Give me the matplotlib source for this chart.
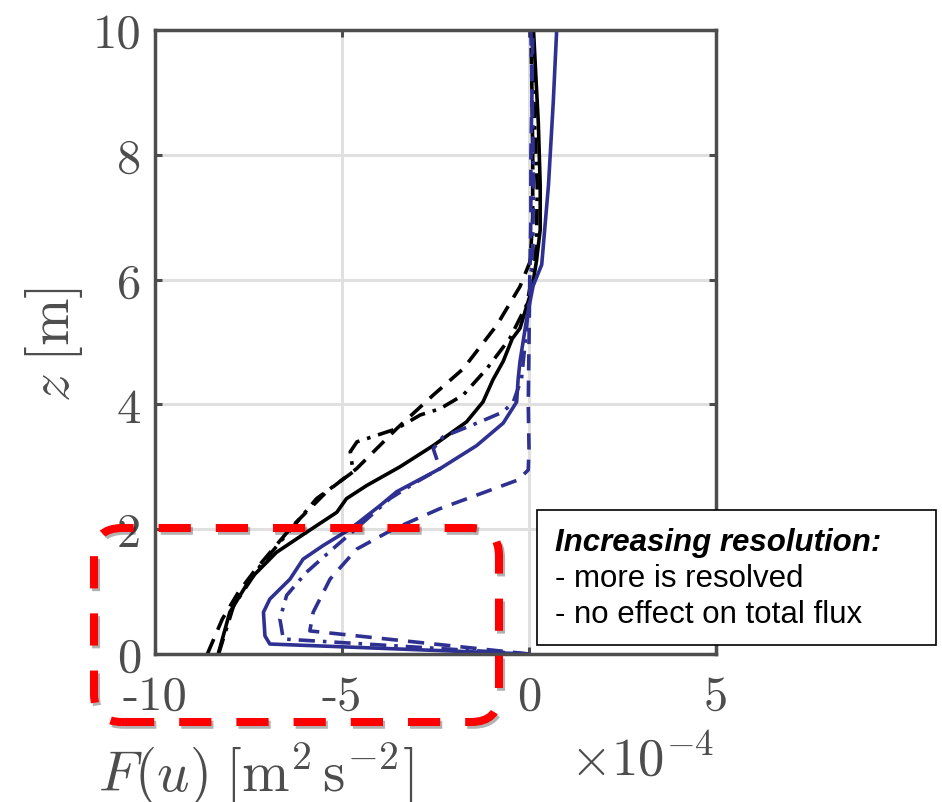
import numpy as np
import matplotlib
matplotlib.use("Agg")
import matplotlib.pyplot as plt
import matplotlib.patches as mpatches
import matplotlib.patheffects as pe

# ── Data (F in units of 1e-4 m^2 s^-2, z in m) ─────────────────
# black: solid / dashed / dash-dot
k_solid_z = [0, 0.67, 1.2, 1.63, 1.95, 2.27, 2.49, 2.70, 3.0, 3.34, 3.72, 4.04,
             4.4, 4.69, 5.05, 5.22, 5.5, 5.75, 6.0, 6.3, 6.8, 7.5, 8.5, 9.3, 10]
k_solid_f = [-8.31, -8.0, -7.46, -6.75, -5.95, -5.14, -4.88, -4.34, -3.45, -2.56,
             -1.67, -1.23, -0.96, -0.69, -0.45, -0.24, -0.1, 0.03, 0.12, 0.2,
             0.3, 0.3, 0.25, 0.18, 0.12]

k_dash_z = [0, 0.56, 0.99, 1.34, 2.06, 2.6, 2.97, 3.61, 4.15, 4.57, 5.27, 5.89,
            6.29, 7.0, 8.0, 9.0, 10]
k_dash_f = [-8.6, -8.2, -7.77, -7.33, -6.31, -5.41, -4.61, -3.54, -2.56, -1.76,
            -0.86, -0.24, 0.03, 0.1, 0.1, 0.08, 0.05]

k_dd_z = [0, 0.77, 1.41, 2.11, 2.49, 2.92, 3.24, 3.4, 3.61, 3.83, 3.93, 4.15,
          4.57, 5.06, 5.6, 6.13, 6.56, 7.5, 8.5, 10]
k_dd_f = [-8.3, -7.9, -7.19, -6.21, -5.68, -4.7, -4.78, -4.6, -3.54, -2.91,
          -2.38, -1.76, -1.13, -0.51, -0.06, 0.11, 0.2, 0.22, 0.15, 0.08]

# blue: solid / dashed / dash-dot
b_solid_z = [0, 0.16, 0.29, 0.67, 0.88, 1.2, 1.52, 1.74, 2.0, 2.38, 2.6, 2.97,
             3.34, 3.7, 4.04, 4.41, 4.69, 5.38, 5.9, 6.24, 7.51, 8.86, 10]
b_solid_f = [-0.03, -6.93, -7.06, -7.1, -6.93, -6.39, -6.04, -5.5, -4.79, -3.98,
             -3.54, -2.38, -1.4, -0.69, -0.33, -0.29, -0.24, -0.06, 0.11, 0.34,
             0.52, 0.65, 0.74]

b_dash_z = [0, 0.37, 0.67, 1.2, 1.68, 2.0, 2.33, 2.79, 2.95, 3.3, 4.0, 5.0,
            6.0, 7.0, 8.0, 9.0, 10]
b_dash_f = [0, -5.86, -5.77, -5.32, -4.61, -3.63, -2.38, -0.29, -0.02, 0.0,
            -0.02, 0.0, 0.02, 0.05, 0.05, 0.08, 0.1]

b_dd_z = [0, 0.24, 0.56, 0.94, 1.31, 1.74, 2.11, 2.49, 2.76, 2.97, 3.29, 3.48,
          3.72, 3.88, 4.04, 4.41, 5.0, 5.8, 6.5, 7.5, 8.5, 10]
b_dd_f = [0, -6.57, -6.66, -6.48, -5.95, -5.14, -4.43, -3.72, -3.0, -2.38,
          -2.56, -2.3, -1.31, -0.69, -0.42, -0.2, -0.1, 0.02, 0.1, 0.12, 0.1, 0.05]

x_ticks = [-10, -5, 0, 5]
x_ticklabels = ["-10", "-5", "0", "5"]
y_ticks = [0, 2, 4, 6, 8, 10]
y_ticklabels = ["0", "2", "4", "6", "8", "10"]

note_title = "Increasing resolution:"
note_lines = ["- more is resolved", "- no effect on total flux"]

# ── Style ──────────────────────────────────────────────────────
GRAY = "#4d4d4d"
BLUE = "#2e3192"
LW = 2.6
plt.rcParams["mathtext.fontset"] = "cm"
plt.rcParams["axes.unicode_minus"] = False

W, H = 942, 803
fig = plt.figure(figsize=(W / 100, H / 100), dpi=100)
ax = fig.add_axes([155 / W, 1 - 655 / H, 561 / W, 624 / H])

dashed = (0, (4.5, 2.8))
dashdot = (0, (4.5, 2.2, 1, 2.2))
ax.plot(k_solid_f, k_solid_z, color="black", lw=LW)
ax.plot(k_dash_f, k_dash_z, color="black", lw=LW, ls=dashed)
ax.plot(k_dd_f, k_dd_z, color="black", lw=LW, ls=dashdot)
ax.plot(b_solid_f, b_solid_z, color=BLUE, lw=LW)
ax.plot(b_dash_f, b_dash_z, color=BLUE, lw=LW, ls=dashed)
ax.plot(b_dd_f, b_dd_z, color=BLUE, lw=LW, ls=dashdot)

ax.set_xlim(-10, 5)
ax.set_ylim(0, 10)
ax.set_xticks(x_ticks)
ax.set_yticks(y_ticks)
ax.set_xticklabels(x_ticklabels, fontfamily="cmr10", fontsize=35, color=GRAY)
ax.set_yticklabels(y_ticklabels, fontfamily="cmr10", fontsize=35, color=GRAY)
ax.tick_params(direction="in", length=5, width=2.2, color=GRAY,
               top=True, right=True)
ax.tick_params(axis="x", pad=15)
ax.tick_params(axis="y", pad=10)
ax.grid(True, color="#e0e0e0", lw=2.2)
ax.set_axisbelow(True)
for sp in ax.spines.values():
    sp.set_color(GRAY)
    sp.set_linewidth(2.5)

# axis labels
fig.text(54 / W, 1 - 345 / H, r"$z\;[\mathrm{m}]$", rotation=90,
         ha="center", va="center", fontsize=41, color=GRAY)
fig.text(98 / W, 1 - 774 / H, r"$F(u)\;[\mathrm{m}^2\,\mathrm{s}^{-2}]$",
         ha="left", va="center", fontsize=41, color=GRAY)
fig.text(714 / W, 1 - 760 / H, r"$\times10^{-4}$",
         ha="right", va="center", fontsize=38, color=GRAY)

# annotation box
box = mpatches.Rectangle((537 / W, 1 - 646 / H), 399 / W, 135 / H,
                         transform=fig.transFigure, facecolor="white",
                         edgecolor="black", lw=1.2, zorder=10)
fig.add_artist(box)
fig.text(555 / W, 1 - 551 / H, note_title, fontsize=22.5, fontweight="bold",
         fontstyle="italic", family="Liberation Sans", zorder=11)
for i, line in enumerate(note_lines):
    fig.text(555 / W, 1 - (587 + 36 * i) / H, line, fontsize=22.5,
             family="Liberation Sans", zorder=11)

# red dashed highlight
red = mpatches.FancyBboxPatch((0.94, 0.80), 4.05, 1.94,
                              boxstyle="round,pad=0,rounding_size=0.28",
                              transform=fig.dpi_scale_trans, facecolor="none",
                              edgecolor="#ff0000", lw=5.8, ls=(0, (4, 3.1)),
                              zorder=12, clip_on=False)
red.set_path_effects([pe.SimpleLineShadow(offset=(1.5, -2), alpha=0.3),
                      pe.Normal()])
fig.add_artist(red)

fig.savefig("out.png", dpi=100)
